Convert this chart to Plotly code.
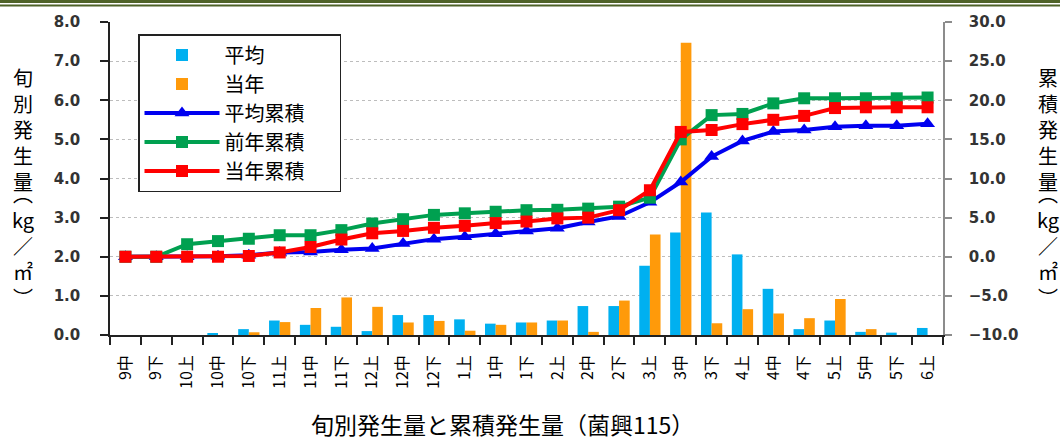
import plotly.graph_objects as go

# Ten-day periods (上/中/下旬) from September to early June
periods = ["9中", "9下", "10上", "10中", "10下", "11上", "11中", "11下", "12上", "12中",
           "12下", "1上", "1中", "1下", "2上", "2中", "2下", "3上", "3中", "3下",
           "4上", "4中", "4下", "5上", "5中", "5下", "6上"]

# Per-period yield (kg/㎡)
avg_yield = [0, 0, 0, 0.04, 0.15, 0.37, 0.26, 0.21, 0.10, 0.51,
             0.51, 0.40, 0.29, 0.32, 0.37, 0.74, 0.74, 1.77, 2.62, 3.13,
             2.06, 1.18, 0.15, 0.37, 0.08, 0.06, 0.18]
cur_yield = [0, 0, 0, 0, 0.07, 0.33, 0.69, 0.96, 0.72, 0.32,
             0.36, 0.11, 0.26, 0.32, 0.37, 0.08, 0.88, 2.57, 7.47, 0.30,
             0.66, 0.55, 0.43, 0.92, 0.15, 0, 0]

# Cumulative yield (kg/㎡)
avg_cum = [0, 0, 0, 0.05, 0.2, 0.55, 0.6, 0.9, 1.05, 1.7,
           2.25, 2.55, 2.95, 3.3, 3.65, 4.45, 5.15, 6.95, 9.55, 12.8,
           14.8, 16.0, 16.2, 16.6, 16.75, 16.75, 17.0]
prev_cum = [0, 0, 1.6, 2.0, 2.3, 2.75, 2.75, 3.4, 4.25, 4.8,
            5.35, 5.55, 5.75, 5.95, 6.0, 6.15, 6.4, 7.55, 15.0, 18.1,
            18.25, 19.6, 20.25, 20.25, 20.25, 20.25, 20.35]
cur_cum = [0, 0, 0, 0, 0.1, 0.55, 1.25, 2.2, 3.0, 3.3,
           3.7, 3.95, 4.3, 4.5, 4.9, 5.0, 5.95, 8.5, 15.95, 16.2,
           16.95, 17.5, 18.0, 19.0, 19.1, 19.1, 19.1]

left_ticks = [0, 1, 2, 3, 4, 5, 6, 7, 8]
right_ticks = [-10, -5, 0, 5, 10, 15, 20, 25, 30]

W, H = 1060, 441
ML, MR, MT, MB = 110, 117, 22, 106
PW, PH = W - ML - MR, H - MT - MB

def px(x):
    return (x - ML) / PW

def py(y):
    return (H - MB - y) / PH

JP = "Noto Sans CJK JP"
PAD = "\u3000\u2002"  # trailing blank space widens the legend box

fig = go.Figure()
fig.add_trace(go.Bar(x=periods, y=avg_yield, name="平均", marker_color="#00B0F0",
                     marker_line_width=0, yaxis="y"))
fig.add_trace(go.Bar(x=periods, y=cur_yield, name="当年", marker_color="#FF9A0A",
                     marker_line_width=0, yaxis="y"))
fig.add_trace(go.Scatter(x=periods, y=avg_cum, name="平均累積" + PAD, yaxis="y2",
                         mode="lines+markers", line=dict(color="#0000F0", width=4),
                         marker=dict(symbol="triangle-up", size=13, color="#0000F0")))
fig.add_trace(go.Scatter(x=periods, y=prev_cum, name="前年累積" + PAD, yaxis="y2",
                         mode="lines+markers", line=dict(color="#00A050", width=4),
                         marker=dict(symbol="square", size=12, color="#00A050")))
fig.add_trace(go.Scatter(x=periods, y=cur_cum, name="当年累積" + PAD, yaxis="y2",
                         mode="lines+markers", line=dict(color="#FF0000", width=4),
                         marker=dict(symbol="square", size=12, color="#FF0000")))

tickfont = dict(family="DejaVu Sans", size=15, color="#333333", weight="bold")

fig.update_layout(
    width=W, height=H,
    margin=dict(l=ML, r=MR, t=MT, b=MB, pad=0),
    paper_bgcolor="white", plot_bgcolor="white",
    barmode="group", bargap=0.31, bargroupgap=0,
    font=dict(family=JP, color="black"),
    showlegend=True,
    legend=dict(x=px(138), y=py(34), xanchor="left", yanchor="top",
                bgcolor="white", bordercolor="#222222", borderwidth=1.5,
                font=dict(family=JP, size=20, color="black"),
                itemwidth=75, tracegroupgap=0, traceorder="normal"),
    xaxis=dict(type="category", tickangle=-90, showgrid=False,
               showline=True, linecolor="#222222", linewidth=1.5,
               ticks="outside", ticklen=8, tickcolor="#222222", tickwidth=1.5,
               tickson="boundaries", ticklabelstandoff=12,
               tickfont=dict(family=JP, size=16, color="black"),
               range=[-0.5, len(periods) - 0.5]),
    yaxis=dict(range=[0, 8], tickvals=left_ticks, tickformat=".1f",
               showgrid=True, gridcolor="#BDBDBD", griddash="dot", gridwidth=1,
               showline=True, linecolor="#222222", linewidth=1.5,
               ticks="outside", ticklen=8, tickcolor="#222222", tickwidth=1.5,
               tickfont=tickfont, ticklabelstandoff=17, zeroline=False),
    yaxis2=dict(range=[-10, 30], tickvals=right_ticks, tickformat=".1f",
                overlaying="y", side="right", showgrid=False,
                showline=True, linecolor="#8C8C8C", linewidth=1.5,
                ticks="outside", ticklen=7, tickcolor="#8C8C8C", tickwidth=1.5,
                tickfont=tickfont, ticklabelstandoff=14, zeroline=False),
)

# Stacked vertical axis titles: word, vertical brackets, unit
def vertical_title(cx, word):
    fig.add_annotation(text="<br>".join(word), xref="paper", yref="paper",
                       x=px(cx), y=py(129), xanchor="center", yanchor="middle",
                       showarrow=False, font=dict(family=JP, size=20, color="black"))
    fig.add_annotation(text="kg<br>／<br>㎡", xref="paper", yref="paper",
                       x=px(cx), y=py(245), xanchor="center", yanchor="middle",
                       showarrow=False, font=dict(family=JP, size=20, color="black"))
    for ch, yy in [("︵", 193), ("︶", 297)]:
        fig.add_annotation(text=ch, xref="paper", yref="paper",
                           x=px(cx), y=py(yy), xanchor="center", yanchor="middle",
                           showarrow=False, font=dict(family=JP, size=20, color="black"))

vertical_title(23, "旬別発生量")
vertical_title(1048, "累積発生量")

# Chart caption below the axis
fig.add_annotation(text="旬別発生量と累積発生量（菌興115）", xref="paper", yref="paper",
                   x=px(502), y=py(424), xanchor="center", yanchor="middle",
                   showarrow=False, font=dict(family=JP, size=23, color="black"))

# Double rule along the top edge
for yy, lw in [(1.5, 3), (5.5, 2)]:
    fig.add_shape(type="line", xref="paper", yref="paper",
                  x0=px(0), x1=px(W), y0=py(yy), y1=py(yy),
                  line=dict(color="#4F6228", width=lw))

fig.write_html("out.html")
